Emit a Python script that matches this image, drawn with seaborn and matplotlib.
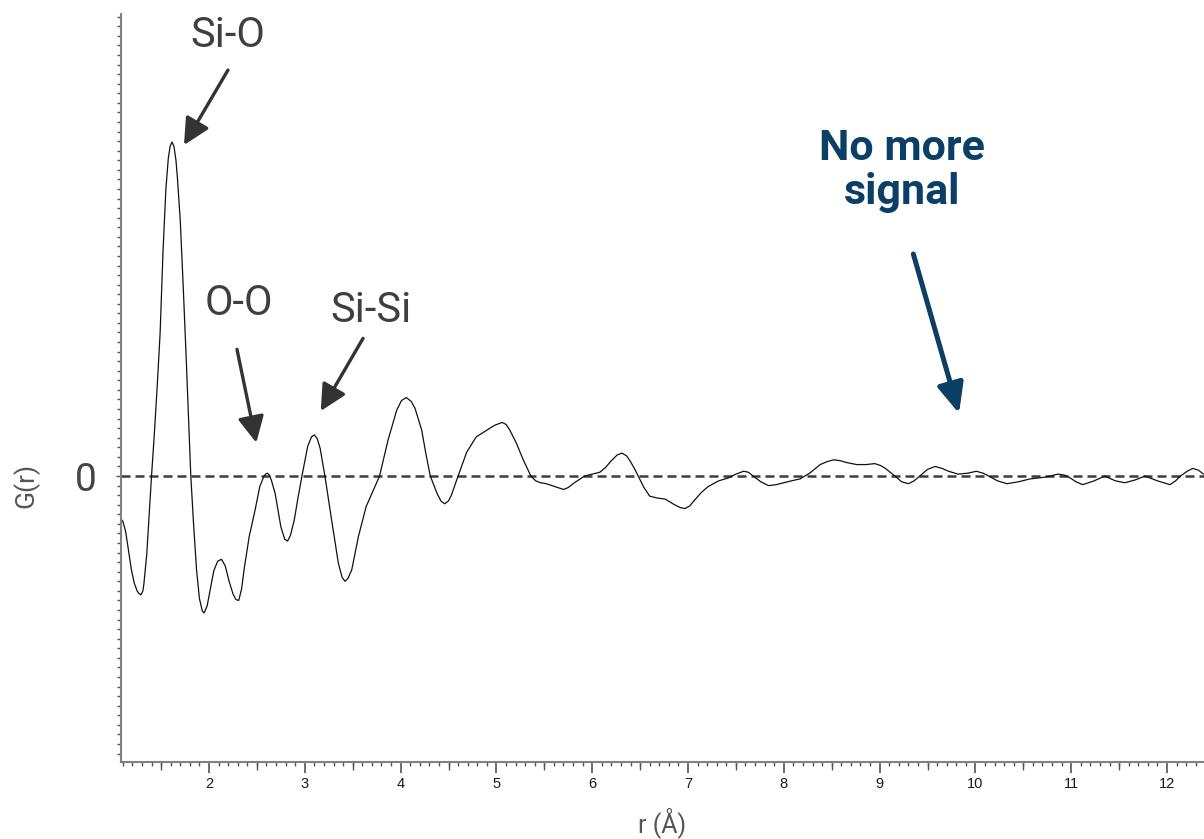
import numpy as np
import pandas as pd
import seaborn as sns
import matplotlib.pyplot as plt
from matplotlib.ticker import MultipleLocator, FixedLocator

# Pair distribution function G(r) of amorphous silica
r = [1.08, 1.10, 1.13, 1.16, 1.19, 1.22, 1.25, 1.27, 1.29, 1.31, 1.32, 1.35,
     1.38, 1.40, 1.43, 1.46, 1.49, 1.52, 1.55, 1.575, 1.595, 1.615, 1.635,
     1.655, 1.67, 1.70, 1.73, 1.76, 1.79, 1.81, 1.84, 1.87, 1.90, 1.93, 1.95,
     1.98, 2.01, 2.05, 2.09, 2.13, 2.17, 2.21, 2.25, 2.28, 2.31, 2.34, 2.37,
     2.42, 2.48, 2.53, 2.57, 2.59, 2.61, 2.63, 2.65, 2.69, 2.75, 2.79, 2.82,
     2.85, 2.89, 2.93, 2.97, 3.03, 3.07, 3.10, 3.13, 3.16, 3.21, 3.28, 3.35,
     3.39, 3.42, 3.45, 3.49, 3.56, 3.64, 3.71, 3.78, 3.87, 3.96, 4.01, 4.06,
     4.11, 4.15, 4.22, 4.27, 4.31, 4.38, 4.42, 4.46, 4.50, 4.53, 4.60, 4.69,
     4.79, 4.90, 4.98, 5.06, 5.10, 5.14, 5.21, 5.28, 5.36, 5.41, 5.46, 5.52,
     5.58, 5.64, 5.70, 5.75, 5.80, 5.86, 5.92, 6.00, 6.08, 6.14, 6.19, 6.26,
     6.31, 6.36, 6.40, 6.44, 6.48, 6.54, 6.60, 6.68, 6.76, 6.86, 6.92, 6.97,
     7.02, 7.07, 7.14, 7.21, 7.32, 7.42, 7.50, 7.58, 7.63, 7.68, 7.76, 7.84,
     7.92, 8.00, 8.08, 8.17, 8.27, 8.38, 8.45, 8.52, 8.59, 8.66, 8.76, 8.86,
     8.95, 9.01, 9.06, 9.11, 9.16, 9.23, 9.30, 9.36, 9.42, 9.50, 9.58, 9.65,
     9.72, 9.82, 9.92, 10.01, 10.08, 10.14, 10.23, 10.33, 10.45, 10.57, 10.66,
     10.74, 10.86, 10.93, 10.99, 11.05, 11.12, 11.24, 11.35, 11.46, 11.56,
     11.67, 11.77, 11.90, 12.03, 12.09, 12.14, 12.21, 12.27, 12.33, 12.38]
g = [-0.45, -0.47, -0.58, -0.78, -0.98, -1.12, -1.20, -1.23, -1.24, -1.20,
     -1.13, -0.82, -0.32, 0.00, 0.45, 0.95, 1.50, 2.35, 3.00, 3.32, 3.45,
     3.49, 3.44, 3.30, 3.12, 2.67, 2.00, 1.28, 0.50, 0.00, -0.52, -0.98,
     -1.28, -1.41, -1.43, -1.36, -1.20, -0.99, -0.89, -0.87, -0.94, -1.10,
     -1.23, -1.29, -1.30, -1.18, -0.95, -0.63, -0.36, -0.11, -0.01, 0.02,
     0.03, 0.01, -0.04, -0.18, -0.53, -0.66, -0.68, -0.62, -0.46, -0.22,
     0.00, 0.31, 0.41, 0.43, 0.39, 0.29, 0.00, -0.46, -0.91, -1.06, -1.10,
     -1.07, -0.98, -0.63, -0.32, -0.16, 0.00, 0.38, 0.69, 0.79, 0.82, 0.78,
     0.71, 0.48, 0.20, 0.00, -0.18, -0.26, -0.29, -0.26, -0.20, 0.00, 0.25,
     0.41, 0.48, 0.53, 0.56, 0.54, 0.48, 0.34, 0.17, 0.00, -0.05, -0.07,
     -0.08, -0.10, -0.12, -0.14, -0.12, -0.08, -0.04, 0.00, 0.02, 0.04,
     0.09, 0.15, 0.22, 0.24, 0.21, 0.15, 0.08, 0.00, -0.12, -0.21, -0.23,
     -0.24, -0.30, -0.33, -0.34, -0.31, -0.25, -0.17, -0.11, -0.05, -0.02,
     0.02, 0.05, 0.04, 0.00, -0.06, -0.10, -0.09, -0.07, -0.05, -0.03, 0.03,
     0.12, 0.15, 0.17, 0.16, 0.14, 0.12, 0.12, 0.13, 0.11, 0.08, 0.04, 0.00,
     -0.06, -0.08, -0.05, 0.00, 0.07, 0.10, 0.08, 0.05, 0.02, 0.03, 0.05,
     0.03, 0.00, -0.05, -0.08, -0.06, -0.03, -0.02, -0.01, 0.02, 0.01,
     -0.02, -0.06, -0.09, -0.05, 0.00, -0.05, -0.07, -0.04, 0.00, -0.05,
     -0.09, -0.05, 0.00, 0.05, 0.08, 0.06, 0.02]

# Peak annotations: label, label position, arrow tail, arrow tip
peak_labels = ["Si-O", "O-O", "Si-Si"]
label_xy = [(2.193, 4.483), (2.308, 1.682), (3.686, 1.609)]
arrow_tail = [(2.198, 4.242), (2.292, 1.324), (3.608, 1.439)]
arrow_tip = [(1.739, 3.459), (2.494, 0.348), (3.166, 0.679)]

note_lines = ["No more", "signal"]
note_xy = [(9.234, 3.302), (9.234, 2.842)]
note_tail = (9.352, 2.320)
note_tip = (9.829, 0.655)

x_major = list(range(2, 13))
x_half = [v + 0.5 for v in range(1, 12)]

df = pd.DataFrame({"r": r, "G": g})

sns.set_theme(style="ticks")
plt.rcParams["font.family"] = ["Roboto", "DejaVu Sans"]

fig = plt.figure(figsize=(12.04, 8.39), dpi=100)
ax = fig.add_axes([121 / 1204, 1 - 762 / 839, (1204 - 121) / 1204, (762 - 14) / 839])

ax.axhline(0, color="#3d3d3d", lw=1.8, ls=(0, (3.6, 2.0)), zorder=1)
sns.lineplot(data=df, x="r", y="G", ax=ax, color="#111111", lw=0.9,
             estimator=None, sort=False, zorder=2)

ax.set_xlim(1.0814, 12.386)
ax.set_ylim(-2.988, 4.828)

for side in ("top", "right"):
    ax.spines[side].set_visible(False)
for side in ("left", "bottom"):
    ax.spines[side].set_color("#808080")
    ax.spines[side].set_linewidth(1.5)

# x ticks: integers labelled, halves medium, tenths small
ax.xaxis.set_major_locator(FixedLocator(x_major))
ax.xaxis.set_minor_locator(MultipleLocator(0.1))
ax.set_xticklabels([str(v) for v in x_major], family="Liberation Sans",
                   fontsize=10.5, color="#1a1a1a")
ax.tick_params(axis="x", which="major", length=8, width=1.2, color="#555555", pad=3)
ax.tick_params(axis="x", which="minor", length=3, width=1.0, color="#555555")
sec = ax.secondary_xaxis("bottom")
sec.set_xticks(x_half)
sec.set_xticklabels([])
sec.tick_params(axis="x", length=5.5, width=1.0, color="#555555")
sec.spines["bottom"].set_visible(False)

# y ticks: only zero labelled, dense minor ticks
ax.yaxis.set_major_locator(FixedLocator([0]))
ax.yaxis.set_minor_locator(MultipleLocator(0.1))
ax.set_yticklabels(["0"], fontsize=28, color="#454545", fontweight="normal")
ax.tick_params(axis="y", which="major", direction="inout", length=7, width=1.0,
               color="#555555", pad=14)
ax.tick_params(axis="y", which="minor", length=3, width=1.0, color="#555555")

ax.set_xlabel("")
ax.set_ylabel("")
fig.text(662 / 1204, 1 - 823 / 839, "r (Å)", ha="center", va="center",
         fontsize=18, color="#555555", fontweight="normal")
fig.text(26 / 1204, 1 - 485 / 839, "G(r)", ha="center", va="center",
         rotation=90, fontsize=19, color="#555555", fontweight="normal")

for lab, (lx, ly), tail, tip in zip(peak_labels, label_xy, arrow_tail, arrow_tip):
    ax.text(lx, ly, lab, ha="center", va="baseline", fontsize=30,
            color="#3f3f3f", fontweight="normal")
    ax.annotate("", xy=tip, xytext=tail,
                arrowprops=dict(arrowstyle="-|>,head_length=0.8,head_width=0.4",
                                lw=2.4, color="#333333", shrinkA=0, shrinkB=0,
                                mutation_scale=20))

for line, (nx, ny) in zip(note_lines, note_xy):
    ax.text(nx, ny, line, ha="center", va="baseline", fontsize=31,
            color="#0b3f66", fontweight="bold")
ax.annotate("", xy=note_tip, xytext=note_tail,
            arrowprops=dict(arrowstyle="-|>,head_length=0.9,head_width=0.4",
                            lw=3.6, color="#0b3f66", shrinkA=0, shrinkB=0,
                            mutation_scale=20))

fig.savefig("out.png", dpi=100)
